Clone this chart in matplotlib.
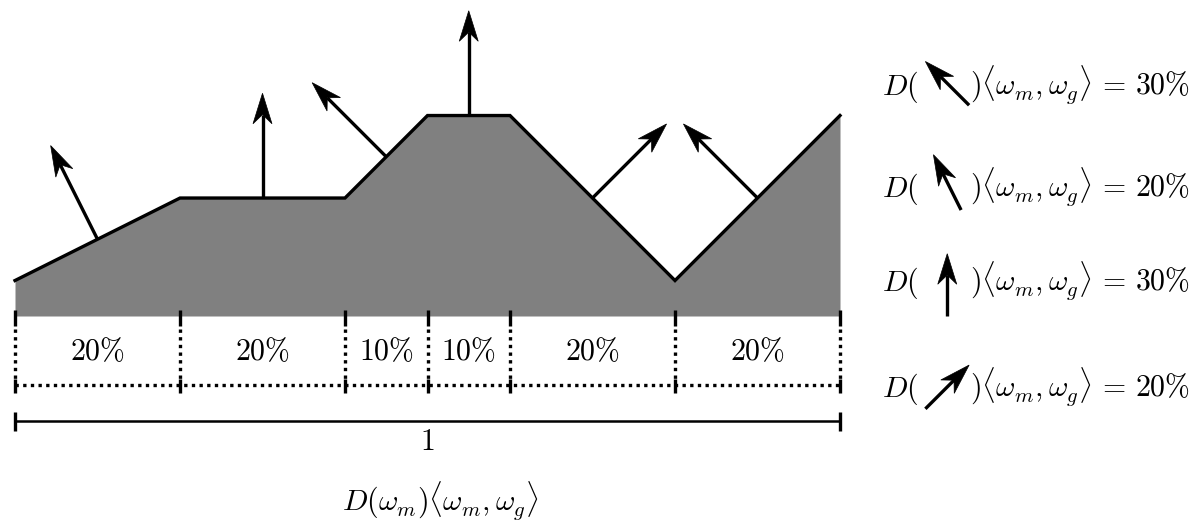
import numpy as np
import matplotlib
matplotlib.use("Agg")
import matplotlib.pyplot as plt
from matplotlib.patches import Polygon

# facet widths (fraction of the unit length) and surface heights at each break
widths = [0.2, 0.2, 0.1, 0.1, 0.2, 0.2]
heights = [0.043, 0.143, 0.143, 0.243, 0.243, 0.043, 0.243]
width_labels = ["20\\%", "20\\%", "10\\%", "10\\%", "20\\%", "20\\%"]

# legend: facet whose normal is shown, and its share
legend_facets = [2, 0, 1, 4]
legend_shares = ["30\\%", "20\\%", "30\\%", "20\\%"]

plt.rcParams["mathtext.fontset"] = "cm"
FS = 21.5
LW = 2.4
ARROW_LEN = 0.127
LEG_ARROW_LEN = 0.075
HEAD_L = 0.037
HEAD_W = 0.0115


def stealth(ax, tail, d, length):
    d = np.asarray(d, float)
    d = d / np.linalg.norm(d)
    n = np.array([-d[1], d[0]])
    tail = np.asarray(tail, float)
    tip = tail + length * d
    notch = tip - 0.7 * HEAD_L * d
    ax.plot([tail[0], notch[0]], [tail[1], notch[1]], color="k", lw=LW,
            solid_capstyle="butt", zorder=4)
    head = [tip, tip - HEAD_L * d + HEAD_W * n, notch, tip - HEAD_L * d - HEAD_W * n]
    ax.add_patch(Polygon(head, closed=True, fc="k", ec="k", lw=0.5, zorder=5))


fig = plt.figure(figsize=(11.96, 5.24), dpi=100)
ax = fig.add_axes([0, 0, 1, 1])
ax.set_xlim(-15 / 825, 1181 / 825)
ax.set_ylim(-208 / 825, 316 / 825)
ax.axis("off")

xs = np.concatenate([[0], np.cumsum(widths)])
hs = np.array(heights)

ax.fill_between(xs, 0, hs, color="#808080", lw=0, zorder=1)
ax.plot(xs, hs, color="k", lw=LW, solid_joinstyle="miter", zorder=3)

# normals at facet midpoints
normals = []
for i in range(len(widths)):
    dx = xs[i + 1] - xs[i]
    dy = hs[i + 1] - hs[i]
    nrm = np.array([-dy, dx])
    normals.append(nrm / np.linalg.norm(nrm))
    mid = ((xs[i] + xs[i + 1]) / 2, (hs[i] + hs[i + 1]) / 2)
    stealth(ax, mid, nrm, ARROW_LEN)

# width partition below the surface
for x in xs:
    ax.plot([x, x], [0.007, -0.012], color="k", lw=LW, solid_capstyle="butt")
    ax.plot([x, x], [-0.016, -0.076], color="k", lw=LW, ls=(0, (1, 1.3)))
    ax.plot([x, x], [-0.076, -0.093], color="k", lw=LW, solid_capstyle="butt")
ax.plot([xs[0], xs[-1]], [-0.084, -0.084], color="k", lw=LW, ls=(0, (1, 1.3)))
for i, lab in enumerate(width_labels):
    ax.text((xs[i] + xs[i + 1]) / 2, -0.054, "$\\mathrm{" + lab + "}$",
            ha="center", va="baseline", fontsize=FS)

# total length bracket
ax.plot([xs[0], xs[-1]], [-0.127, -0.127], color="k", lw=1.8)
for x in (xs[0], xs[-1]):
    ax.plot([x, x], [-0.116, -0.139], color="k", lw=LW, solid_capstyle="butt")
ax.text((xs[0] + xs[-1]) / 2, -0.162, "$1$", ha="center", va="baseline", fontsize=FS)

ax.text(0.515, -0.236, "$D(\\omega_m)\\langle\\omega_m,\\omega_g\\rangle$",
        ha="center", va="baseline", fontsize=FS)

# legend
leg_base = [0.268, 0.144, 0.030, -0.098]
leg_cy = [0.282, 0.162, 0.038, -0.086]
for facet, share, yb, yc in zip(legend_facets, legend_shares, leg_base, leg_cy):
    ax.text(1.051, yb, "$D($", ha="left", va="baseline", fontsize=FS)
    ax.text(1.158, yb, "$)\\langle\\omega_m,\\omega_g\\rangle\\,=\\," + share + "$",
            ha="left", va="baseline", fontsize=FS)
    d = normals[facet]
    stealth(ax, (1.130 - d[0] * LEG_ARROW_LEN / 2, yc - d[1] * LEG_ARROW_LEN / 2),
            d, LEG_ARROW_LEN)

fig.savefig("out.png", dpi=100)
